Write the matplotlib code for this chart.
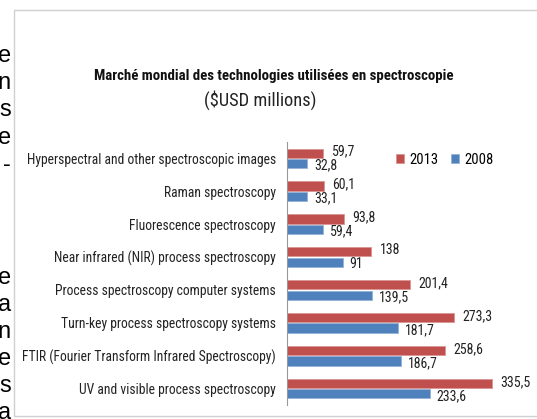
import matplotlib.pyplot as plt
from matplotlib.patches import Rectangle

# data
categories = [
    "Hyperspectral and other spectroscopic images",
    "Raman spectroscopy",
    "Fluorescence spectroscopy",
    "Near infrared (NIR) process spectroscopy",
    "Process spectroscopy computer systems",
    "Turn-key process spectroscopy systems",
    "FTIR (Fourier Transform Infrared Spectroscopy)",
    "UV and visible process spectroscopy",
]
values_2013 = [59.7, 60.1, 93.8, 138, 201.4, 273.3, 258.6, 335.5]
values_2008 = [32.8, 33.1, 59.4, 91, 139.5, 181.7, 186.7, 233.6]

title = "Marché mondial des technologies utilisées en spectroscopie"
subtitle = "($USD millions)"

# cut-off letters of the page text on the left side
side_letters_top = ["e", "n", "s", "e", "-"]
side_letters_bottom = ["e", "a", "n", "e", "s", "a"]

RED = "#C0504D"
BLUE = "#4F81BD"
FONT = ["Roboto Condensed", "Liberation Sans Narrow", "Roboto", "DejaVu Sans"]

W, H = 537, 419
fig = plt.figure(figsize=(W / 100, H / 100), dpi=100)
renderer = fig.canvas.get_renderer()


def fit_size(text, target_px, base=10, **kw):
    # font size that makes the text about target_px wide
    t = fig.text(0, 0, text, fontsize=base, family=FONT, **kw)
    w = t.get_window_extent(renderer).width
    t.remove()
    return base * target_px / w


label_size = fit_size(categories[0], 250)
value_size = 10
title_size = fit_size(title, 360, fontweight="bold")
sub_size = fit_size(subtitle, 112)

# chart frame
fig.patches.append(Rectangle((14 / W, 1 - 416 / H), (W - 14 + 10) / W, (416 - 10) / H,
                             transform=fig.transFigure, fill=False,
                             edgecolor="#d0d0d0", linewidth=1.0))

# page text letters
for i, ch in enumerate(side_letters_top):
    fig.text(11 / W, 1 - (62 + i * 27.2) / H, ch, ha="right", va="baseline",
             fontsize=17, family=["Liberation Sans", "DejaVu Sans"], color="#000000")
for i, ch in enumerate(side_letters_bottom):
    fig.text(11 / W, 1 - (284 + i * 27.0) / H, ch, ha="right", va="baseline",
             fontsize=17, family=["Liberation Sans", "DejaVu Sans"], color="#000000")

ax = fig.add_axes([287 / W, 1 - 405 / H, (531 - 287) / W, (405 - 142) / H])

n = len(categories)
pos = list(range(n))[::-1]
h = 0.28
off = 0.16
bars_13 = ax.barh([p + off for p in pos], values_2013, height=h, color=RED,
                  edgecolor="#d99694", linewidth=0.6, label="2013")
bars_08 = ax.barh([p - off for p in pos], values_2008, height=h, color=BLUE,
                  edgecolor="#95b3d7", linewidth=0.6, label="2008")


def fmt(v):
    return f"{v:g}".replace(".", ",")


for b, v in zip(bars_13, values_2013):
    ax.annotate(fmt(v), (b.get_width(), b.get_y() + b.get_height() / 2),
                xytext=(6, 1), textcoords="offset points", ha="left", va="center",
                fontsize=value_size, family=FONT, color="#222222")
for b, v in zip(bars_08, values_2008):
    ax.annotate(fmt(v), (b.get_width(), b.get_y() + b.get_height() / 2),
                xytext=(5, -1.5), textcoords="offset points", ha="left", va="center",
                fontsize=value_size, family=FONT, color="#222222")

ax.set_xlim(0, (531 - 287) / 0.611)
ax.set_ylim(-0.5, n - 0.5)
ax.set_yticks(pos)
ax.set_yticklabels(categories, fontsize=label_size, family=FONT, color="#222222")
ax.tick_params(axis="y", length=0, pad=8)
ax.set_xticks([])
for s in ["top", "right", "bottom"]:
    ax.spines[s].set_visible(False)
ax.spines["left"].set_color("#999999")
ax.spines["left"].set_linewidth(0.8)

ax.legend(loc="upper left", bbox_to_anchor=((396 - 287) / (531 - 287), 1 - (153 - 142) / (405 - 142)),
          ncol=2, frameon=False, handlelength=0.55, handleheight=0.55, handletextpad=0.4,
          columnspacing=0.8, borderaxespad=0, borderpad=0,
          prop={"family": FONT, "size": 10.5})

fig.text(274 / W, 1 - 76 / H, title, ha="center", va="center",
         fontsize=title_size, fontweight="bold", family=FONT, color="#111111")
fig.text(260 / W, 1 - 100 / H, subtitle, ha="center", va="center",
         fontsize=sub_size, family=FONT, color="#222222")

fig.savefig("out.png", dpi=100)
